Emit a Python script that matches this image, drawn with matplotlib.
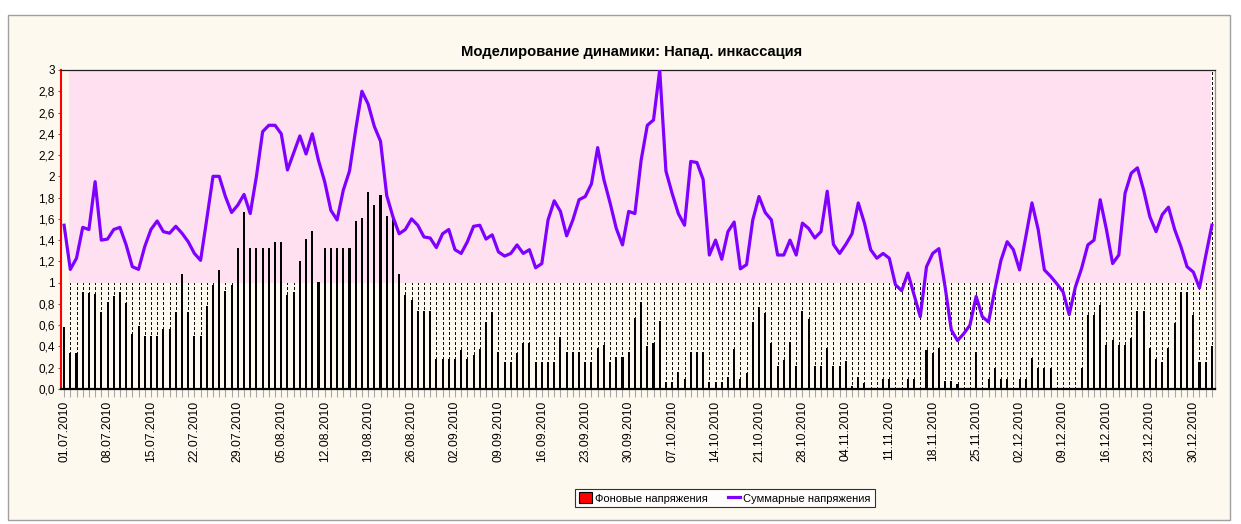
import matplotlib
matplotlib.use("Agg")
import matplotlib.pyplot as plt
from matplotlib.patches import Rectangle
from matplotlib.lines import Line2D

plt.rcParams["font.family"] = ["Liberation Sans", "DejaVu Sans"]

# daily values 01.07.2010 .. 02.01.2011
background = [
    0.58, 0.335, 0.335, 0.915, 0.90, 0.89, 0.72, 0.82, 0.875, 0.915,
    0.805, 0.52, 0.59, 0.50, 0.50, 0.50, 0.56, 0.56, 0.72, 1.08,
    0.72, 0.50, 0.50, 0.78, 0.98, 1.12, 0.925, 0.98, 1.33, 1.665,
    1.33, 1.33, 1.33, 1.33, 1.38, 1.38, 0.88, 0.915, 1.20, 1.415,
    1.485, 1.01, 1.33, 1.33, 1.33, 1.33, 1.33, 1.58, 1.605, 1.855,
    1.73, 1.82, 1.63, 1.605, 1.08, 0.88, 0.84, 0.735, 0.735, 0.735,
    0.28, 0.28, 0.28, 0.28, 0.365, 0.28, 0.32, 0.375, 0.63, 0.72,
    0.345, 0.25, 0.25, 0.34, 0.435, 0.435, 0.25, 0.25, 0.25, 0.25,
    0.485, 0.345, 0.345, 0.345, 0.25, 0.25, 0.39, 0.41, 0.25, 0.30,
    0.30, 0.35, 0.665, 0.82, 0.40, 0.435, 0.64, 0.063, 0.063, 0.16,
    0.09, 0.35, 0.35, 0.35, 0.063, 0.063, 0.063, 0.116, 0.376, 0.09,
    0.154, 0.63, 0.774, 0.718, 0.435, 0.216, 0.27, 0.445, 0.216, 0.733,
    0.655, 0.216, 0.216, 0.39, 0.216, 0.216, 0.263, 0.03, 0.116, 0.06,
    0.0, 0.0, 0.09, 0.09, 0.0, 0.0, 0.09, 0.09, 0.0, 0.367,
    0.34, 0.39, 0.078, 0.078, 0.044, 0.0, 0.0, 0.345, 0.0, 0.09,
    0.20, 0.09, 0.09, 0.0, 0.09, 0.09, 0.29, 0.20, 0.20, 0.20,
    0.0, 0.0, 0.0, 0.0, 0.20, 0.70, 0.70, 0.79, 0.41, 0.46,
    0.41, 0.41, 0.476, 0.733, 0.733, 0.39, 0.28, 0.25, 0.39, 0.62,
    0.915, 0.915, 0.70, 0.25, 0.25, 0.40,
]

total = [
    1.54, 1.125, 1.23, 1.52, 1.50, 1.95, 1.40, 1.41, 1.50, 1.52,
    1.355, 1.15, 1.125, 1.34, 1.50, 1.58, 1.48, 1.465, 1.53, 1.465,
    1.385, 1.275, 1.21, 1.60, 2.00, 2.00, 1.81, 1.66, 1.73, 1.83,
    1.65, 2.00, 2.42, 2.48, 2.48, 2.40, 2.06, 2.22, 2.38, 2.21,
    2.40, 2.15, 1.95, 1.68, 1.59, 1.87, 2.05, 2.44, 2.80, 2.68,
    2.47, 2.33, 1.82, 1.62, 1.46, 1.50, 1.60, 1.54, 1.43, 1.42,
    1.33, 1.46, 1.50, 1.31, 1.275, 1.385, 1.53, 1.54, 1.41, 1.45,
    1.29, 1.25, 1.275, 1.355, 1.275, 1.31, 1.14, 1.18, 1.59, 1.77,
    1.67, 1.44, 1.59, 1.78, 1.81, 1.93, 2.27, 1.97, 1.75, 1.51,
    1.355, 1.67, 1.65, 2.15, 2.48, 2.53, 3.00, 2.05, 1.84, 1.65,
    1.54, 2.14, 2.13, 1.97, 1.26, 1.40, 1.22, 1.48, 1.57, 1.13,
    1.17, 1.59, 1.81, 1.66, 1.59, 1.26, 1.26, 1.40, 1.26, 1.56,
    1.51, 1.42, 1.48, 1.86, 1.36, 1.275, 1.36, 1.46, 1.75, 1.56,
    1.31, 1.23, 1.275, 1.23, 0.98, 0.925, 1.09, 0.885, 0.68, 1.15,
    1.275, 1.32, 0.96, 0.555, 0.455, 0.52, 0.60, 0.87, 0.68, 0.63,
    0.93, 1.21, 1.385, 1.31, 1.12, 1.43, 1.75, 1.50, 1.12, 1.06,
    0.99, 0.915, 0.70, 0.96, 1.135, 1.355, 1.40, 1.78, 1.50, 1.18,
    1.26, 1.84, 2.03, 2.08, 1.87, 1.62, 1.48, 1.64, 1.71, 1.50,
    1.34, 1.15, 1.10, 0.95, 1.25, 1.54,
]

tick_labels = [
    "01.07.2010", "08.07.2010", "15.07.2010", "22.07.2010", "29.07.2010",
    "05.08.2010", "12.08.2010", "19.08.2010", "26.08.2010", "02.09.2010",
    "09.09.2010", "16.09.2010", "23.09.2010", "30.09.2010", "07.10.2010",
    "14.10.2010", "21.10.2010", "28.10.2010", "04.11.2010", "11.11.2010",
    "18.11.2010", "25.11.2010", "02.12.2010", "09.12.2010", "16.12.2010",
    "23.12.2010", "30.12.2010",
]
y_ticks = [0, 0.2, 0.4, 0.6, 0.8, 1.0, 1.2, 1.4, 1.6, 1.8, 2.0, 2.2, 2.4, 2.6, 2.8, 3.0]
y_labels = ["0,0", "0,2", "0,4", "0,6", "0,8", "1", "1,2", "1,4", "1,6", "1,8",
            "2", "2,2", "2,4", "2,6", "2,8", "3"]

CREAM = "#fdf9ee"
PINK = "#ffe0f0"
PURPLE = "#8000ff"

n = len(total)
x = list(range(n))

fig = plt.figure(figsize=(12.41, 5.24), dpi=100)
fig.patch.set_facecolor("white")
fig.patches.append(Rectangle((8 / 1241, 1 - 520 / 524), 1222 / 1241, 505 / 524,
                             transform=fig.transFigure, facecolor=CREAM,
                             edgecolor="#a0a0a0", lw=1.0, zorder=-10))

ax = fig.add_axes([61 / 1241, 1 - 389 / 524, 1154 / 1241, 319 / 524])
ax.set_facecolor(CREAM)

# pink zone above 1 and dotted drop lines below it
ax.fill_between([0.85, n - 1.15], 1, 3, color=PINK, lw=0, zorder=0)
ax.vlines(x[1:-1], 0, 1, colors="#101010", lw=0.75, linestyles=(0, (2, 2)),
          antialiased=False, zorder=1)
ax.vlines([x[-1]], 0, 3, colors="#101010", lw=0.75, linestyles=(0, (2, 2)),
          antialiased=False, zorder=1)

ax.bar(x, background, width=0.33, color="black", antialiased=False, zorder=2)
ax.plot(x, total, color=PURPLE, lw=2.3, zorder=3, solid_joinstyle="round")

ax.set_xlim(-0.5, n - 0.5)
ax.set_ylim(0, 3)
ax.set_yticks(y_ticks)
ax.set_yticklabels(y_labels, fontsize=8.5)
ax.set_xticks(x[::7])
ax.set_xticklabels(tick_labels, rotation=90, fontsize=8.8)
ax.set_xticks(x, minor=True)
ax.tick_params(axis="x", which="both", length=5.5, width=0.8, color="#a8a8a8", pad=3)
ax.tick_params(axis="y", length=2.5, width=0.8, color="#606060", pad=2)

ax.spines["left"].set_color("red")
ax.spines["left"].set_linewidth(1.5)
ax.spines["bottom"].set_color("black")
ax.spines["bottom"].set_linewidth(1.6)
ax.spines["top"].set_color("#202020")
ax.spines["top"].set_linewidth(0.9)
ax.spines["right"].set_color("#909090")
ax.spines["right"].set_linewidth(0.9)

fig.text(632 / 1241, 1 - 52 / 524, "Моделирование динамики: Напад. инкассация",
         ha="center", va="center", fontsize=10.6, fontweight="bold")

handles = [
    Rectangle((0, 0), 1, 1, facecolor="red", edgecolor="black", lw=0.8),
    Line2D([0], [0], color=PURPLE, lw=2.3),
]
leg = fig.legend(handles, ["Фоновые напряжения", "Суммарные напряжения"],
                 loc="center", bbox_to_anchor=(725 / 1241, 1 - 498 / 524), ncol=2,
                 fontsize=8, frameon=True, fancybox=False, handlelength=1.1,
                 handleheight=1.1, handletextpad=0.3, columnspacing=1.8,
                 borderpad=0.35, edgecolor="black")
leg.get_frame().set_facecolor("white")
leg.get_frame().set_linewidth(0.8)

fig.savefig("out.png", dpi=100, facecolor=fig.get_facecolor())
